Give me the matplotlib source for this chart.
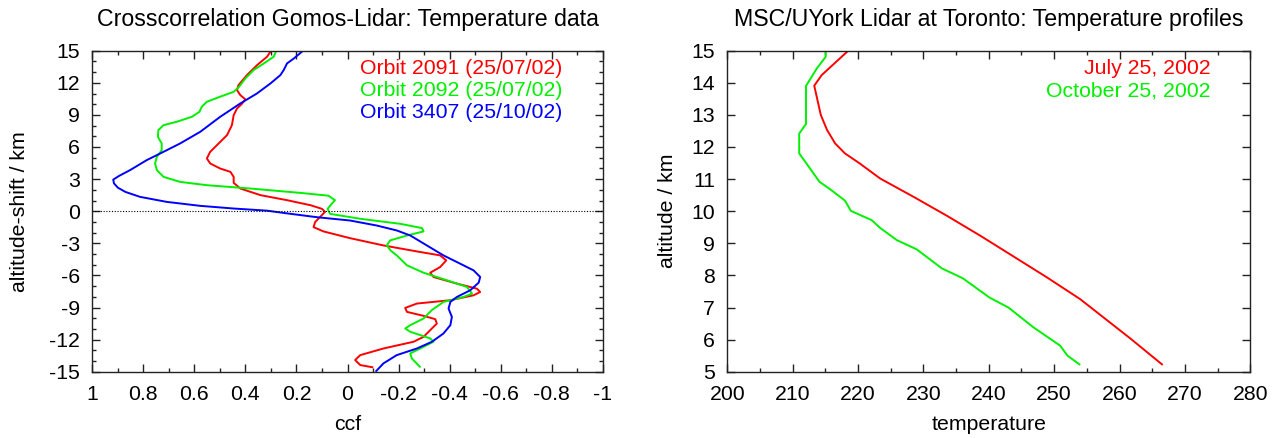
import matplotlib
matplotlib.use("Agg")
import matplotlib.pyplot as plt
from matplotlib.ticker import MultipleLocator

plt.rcParams['font.family'] = ['Liberation Sans', 'DejaVu Sans']
plt.rcParams['axes.unicode_minus'] = False
FS = 15.3
FS_TITLE = 16.7

# ---- Left panel data: (ccf, altitude shift) ----
red_ccf = [0.30, 0.315, 0.354, 0.394, 0.427, 0.433, 0.42, 0.40, 0.415, 0.433, 0.446, 0.453,
           0.472, 0.505, 0.538, 0.551, 0.538, 0.499, 0.459, 0.446, 0.446, 0.42, 0.341, 0.237,
           0.145, 0.10, 0.088, 0.107, 0.127, 0.133, 0.094, -0.01, -0.141, -0.272, -0.363,
           -0.387, -0.363, -0.324, -0.337, -0.429, -0.507, -0.52, -0.494, -0.403, -0.272,
           -0.226, -0.233, -0.298, -0.344, -0.35, -0.324, -0.298, -0.259, -0.141, -0.05,
           -0.03, -0.05, -0.101]
red_shift = [15.0, 14.44, 13.66, 12.72, 11.79, 11.32, 10.85, 10.45, 10.0, 9.6, 8.98, 8.04,
             7.11, 6.33, 5.55, 4.93, 4.46, 3.99, 3.68, 3.21, 2.65, 2.12, 1.5, 1.03,
             0.56, 0.22, -0.06, -0.53, -1.02, -1.49, -1.89, -2.52, -3.2, -3.76, -4.13,
             -4.6, -5.22, -5.75, -6.15, -6.77, -7.24, -7.55, -7.86, -8.32, -8.63,
             -9.04, -9.41, -9.78, -10.09, -10.5, -11.12, -11.74, -12.2, -12.83, -13.45,
             -13.91, -14.38, -14.6]

green_ccf = [0.279, 0.289, 0.328, 0.368, 0.40, 0.427, 0.446, 0.499, 0.551, 0.571, 0.58, 0.61,
             0.669, 0.721, 0.741, 0.743, 0.728, 0.728, 0.747, 0.754, 0.747, 0.721, 0.656, 0.551,
             0.381, 0.184, 0.075, 0.049, 0.065, 0.078, 0.068, -0.05, -0.207, -0.292, -0.298,
             -0.233, -0.167, -0.154, -0.17, -0.193, -0.233, -0.298, -0.39, -0.468, -0.488,
             -0.455, -0.376, -0.33, -0.298, -0.246, -0.226, -0.246, -0.324, -0.337, -0.285,
             -0.246, -0.252, -0.286]
green_shift = [15.0, 14.44, 13.81, 13.19, 12.41, 11.57, 11.16, 10.7, 10.23, 9.76, 9.29, 8.82,
               8.36, 8.04, 7.58, 6.95, 6.33, 5.71, 5.08, 4.46, 3.84, 3.21, 2.74, 2.43,
               2.12, 1.71, 1.45, 1.03, 0.6, 0.22, -0.25, -0.71, -1.18, -1.58, -1.89,
               -2.27, -2.73, -3.2, -3.7, -4.13, -5.06, -5.75, -6.46, -7.08, -7.7,
               -8.01, -8.48, -9.25, -10.03, -10.65, -10.96, -11.27, -11.89, -12.2, -12.83,
               -13.29, -13.76, -14.6]

blue_ccf = [0.174, 0.21, 0.237, 0.25, 0.263, 0.302, 0.355, 0.42, 0.499, 0.577, 0.656, 0.721,
            0.787, 0.852, 0.895, 0.918, 0.915, 0.90, 0.87, 0.813, 0.708, 0.577, 0.446, 0.315,
            0.251, 0.12, -0.01, -0.115, -0.193, -0.246, -0.311, -0.376, -0.442, -0.494,
            -0.52, -0.514, -0.481, -0.429, -0.403, -0.396, -0.409, -0.403, -0.376, -0.331,
            -0.272, -0.193, -0.141, -0.11]
blue_shift = [15.0, 14.28, 13.81, 13.19, 12.72, 11.94, 11.0, 10.07, 8.82, 7.42, 6.33, 5.55,
              4.77, 3.84, 3.3, 2.95, 2.6, 2.2, 1.8, 1.34, 0.87, 0.5, 0.25, 0.05,
              -0.16, -0.56, -0.87, -1.34, -1.8, -2.27, -3.2, -4.13, -4.91, -5.53,
              -6.15, -6.68, -7.39, -8.01, -8.48, -9.1, -9.88, -10.65, -11.43, -12.2,
              -12.83, -13.45, -14.22, -15.0]

left_labels = ["Orbit 2091 (25/07/02)", "Orbit 2092 (25/07/02)", "Orbit 3407 (25/10/02)"]

# ---- Right panel data: (temperature, altitude) ----
july_T = [218.5, 214.44, 213.3, 214.3, 215.26, 216.5, 218.0, 220.24, 223.37, 228.47, 233.57,
          238.67, 243.78, 248.88, 253.98, 261.68, 266.6]
july_alt = [15.0, 14.24, 13.91, 13.0, 12.53, 12.11, 11.8, 11.49, 11.02, 10.45, 9.86,
            9.24, 8.59, 7.94, 7.26, 6.03, 5.21]

oct_T = [215.05, 215.05, 213.7, 212.04, 212.04, 212.04, 211.0, 211.0, 212.45, 214.08,
         215.88, 218.0, 218.9, 222.1, 223.37, 225.92, 228.98, 232.81, 236.02, 240.1,
         243.0, 246.84, 250.92, 252.04, 253.98]
oct_alt = [15.0, 14.81, 14.45, 13.9, 13.36, 12.72, 12.42, 11.8, 11.39, 10.92,
           10.66, 10.33, 10.01, 9.72, 9.48, 9.10, 8.81, 8.22, 7.91, 7.31,
           7.0, 6.38, 5.81, 5.5, 5.21]

right_labels = ["July 25, 2002", "October 25, 2002"]

RED, GREEN, BLUE = "#ff0000", "#00f000", "#0000ff"
AXC = "#222222"

fig = plt.figure(figsize=(12.78, 4.38), dpi=100)
ax1 = fig.add_axes([92.3/1278, 66.3/438, 510.4/1278, 321/438])
ax2 = fig.add_axes([727.3/1278, 66.3/438, 523/1278, 321/438])

lw = 1.4
kw = dict(lw=lw, solid_joinstyle="round", solid_capstyle="butt")
ax1.plot(red_ccf, red_shift, color=RED, **kw)
ax1.plot(green_ccf, green_shift, color=GREEN, **kw)
ax1.plot(blue_ccf, blue_shift, color=BLUE, **kw)
ax1.axhline(0, color="black", lw=0.8, ls=(0, (1, 1.5)))
ax1.set_xlim(1, -1)
ax1.set_ylim(-15, 15)
ax1.xaxis.set_minor_locator(MultipleLocator(0.1))
ax1.yaxis.set_major_locator(MultipleLocator(3))
ax1.yaxis.set_minor_locator(MultipleLocator(1))
ax1.set_xticks([1, 0.8, 0.6, 0.4, 0.2, 0, -0.2, -0.4, -0.6, -0.8, -1])
ax1.set_xticklabels(["1", "0.8", "0.6", "0.4", "0.2", "0", "-0.2", "-0.4", "-0.6", "-0.8", "-1"])
ax1.set_xlabel("ccf", fontsize=FS, labelpad=8)
ax1.set_ylabel("altitude-shift / km", fontsize=FS, labelpad=14)
ax1.set_title("Crosscorrelation Gomos-Lidar: Temperature data", fontsize=FS_TITLE, pad=17.5)
for i, (lab, c) in enumerate(zip(left_labels, [RED, GREEN, BLUE])):
    ax1.text(0.9216, 0.944 - i * 0.0675, lab, color=c, fontsize=FS, ha="right", va="center",
             transform=ax1.transAxes)

ax2.plot(july_T, july_alt, color=RED, **kw)
ax2.plot(oct_T, oct_alt, color=GREEN, **kw)
ax2.set_xlim(200, 280)
ax2.set_ylim(5, 15)
ax2.xaxis.set_major_locator(MultipleLocator(10))
ax2.xaxis.set_minor_locator(MultipleLocator(5))
ax2.yaxis.set_major_locator(MultipleLocator(1))
ax2.set_xlabel("temperature", fontsize=FS, labelpad=8)
ax2.set_ylabel("altitude / km", fontsize=FS, labelpad=10)
ax2.set_title("MSC/UYork Lidar at Toronto: Temperature profiles", fontsize=FS_TITLE, pad=17.5)
for i, (lab, c) in enumerate(zip(right_labels, [RED, GREEN])):
    ax2.text(0.924, 0.944 - i * 0.069, lab, color=c, fontsize=FS, ha="right", va="center",
             transform=ax2.transAxes)

for ax in (ax1, ax2):
    ax.tick_params(which="both", direction="in", top=True, right=True, labelsize=FS,
                   color=AXC, width=1.0)
    ax.tick_params(which="major", length=6)
    ax.tick_params(which="minor", length=3)
    ax.tick_params(axis="x", which="major", pad=9.5)
    ax.tick_params(axis="y", which="major", pad=9)
    for s in ax.spines.values():
        s.set_linewidth(1.0)
        s.set_color(AXC)

fig.savefig("out.png", dpi=100)
